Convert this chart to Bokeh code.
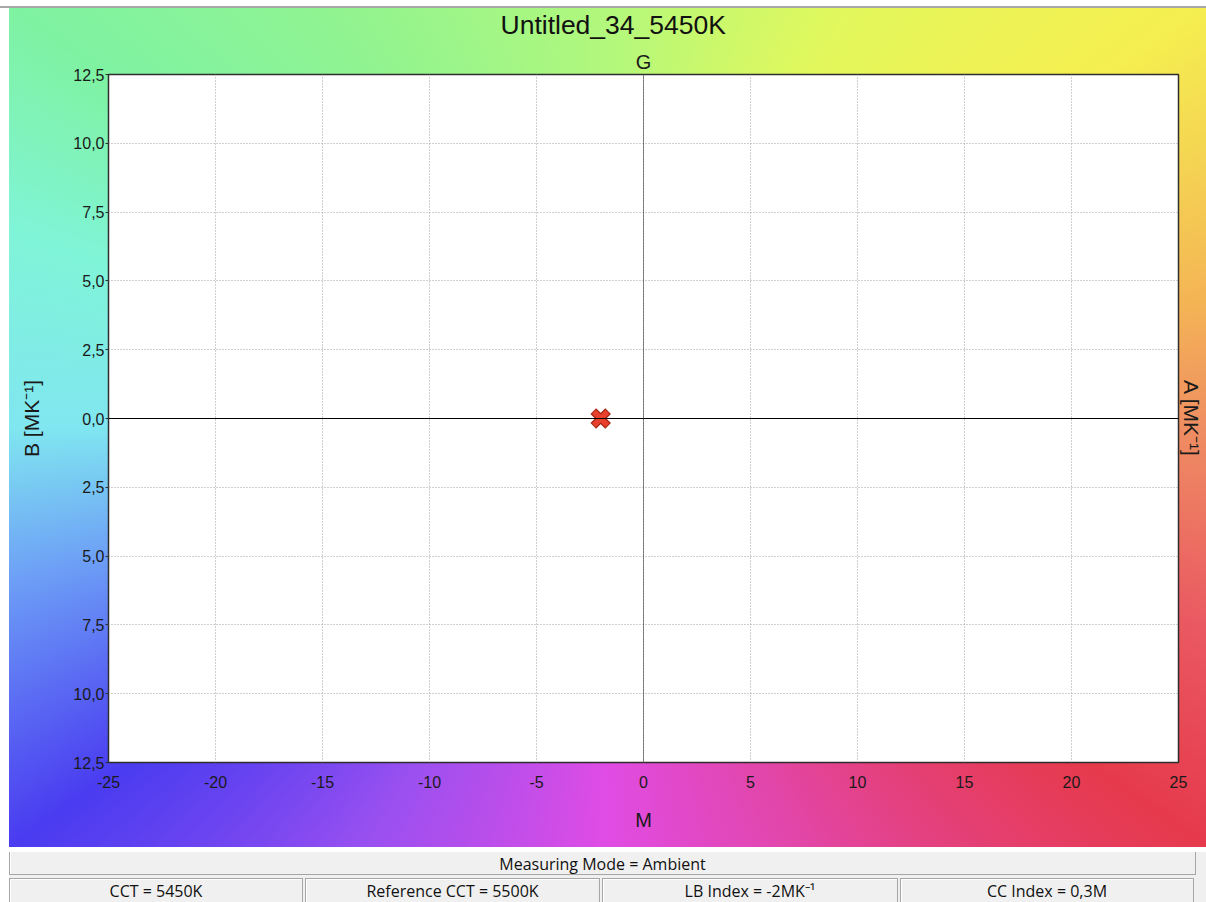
from bokeh.plotting import figure
from bokeh.models import FixedTicker, LinearAxis, Span, Range1d, Div
from bokeh.layouts import column
from bokeh.embed import file_html
from bokeh.resources import INLINE

# ---------------- data ----------------
title_text = "Untitled_34_5450K"
x_ticks = [-25, -20, -15, -10, -5, 0, 5, 10, 15, 20, 25]
x_tick_labels = ["-25", "-20", "-15", "-10", "-5", "0", "5", "10", "15", "20", "25"]
y_ticks = [-12.5, -10, -7.5, -5, -2.5, 0, 2.5, 5, 7.5, 10, 12.5]
y_tick_labels = ["12,5", "10,0", "7,5", "5,0", "2,5", "0,0", "2,5", "5,0", "7,5", "10,0", "12,5"]
point_x = [-2.0]
point_y = [0.0]
label_top = "G"
label_bottom = "M"
label_left = "B [MK⁻¹]"
label_right = "A [MK⁻¹]"
status_top = "Measuring Mode = Ambient"
status_items = ["CCT = 5450K", "Reference CCT = 5500K", "LB Index = -2MK⁻¹", "CC Index = 0,3M"]

FONT = "Liberation Sans"

p = figure(width=1206, height=847,
           x_range=Range1d(x_ticks[0], x_ticks[-1]),
           y_range=Range1d(y_ticks[0], y_ticks[-1]),
           output_backend="svg", toolbar_location=None,
           min_border_left=108, min_border_right=28,
           min_border_top=74, min_border_bottom=85)

p.border_fill_color = None
p.background_fill_color = "white"
conic = ("conic-gradient(from 0deg at 50% 50%, #b2f87c 0deg, #e2f85c 30deg, #f5ee50 55deg, "
         "#f4b455 78deg, #ef8e62 90deg, #ea5a62 108deg, #e63a4c 125deg, #e246a8 155deg, "
         "#e04ce4 180deg, #9a50f0 210deg, #4a3cf0 235deg, #6c9cf6 255deg, #80e6f0 270deg, "
         "#80f4d8 288deg, #7ff2a2 305deg, #94f48e 330deg, #b2f87c 360deg)")
p.styles = {"background": "linear-gradient(#a8a8a8, #a8a8a8) 0px 6px / 100% 2px no-repeat, "
                          + conic + " 9px 8px / 1197px 839px no-repeat, #ffffff"}

p.outline_line_color = "#2e2e2e"
p.outline_line_width = 1.5

# title
p.title.text = title_text
p.title.align = "left"
p.title.offset = 392
p.title.text_font = FONT
p.title.text_font_size = "26.5px"
p.title.text_font_style = "normal"
p.title.text_color = "#111111"
p.title.standoff = 15

# bottom axis
xa = p.xaxis[0]
xa.ticker = FixedTicker(ticks=x_ticks)
xa.major_label_overrides = dict(zip(x_ticks, x_tick_labels))
xa.axis_line_color = None
xa.major_tick_out = 0
xa.major_tick_in = 0
xa.minor_tick_out = 0
xa.minor_tick_in = 0
xa.major_label_standoff = 13
xa.major_label_text_font = FONT
xa.major_label_text_font_size = "16px"
xa.major_label_text_color = "#1a1a1a"
xa.axis_label = label_bottom
xa.axis_label_text_font = FONT
xa.axis_label_text_font_size = "20px"
xa.axis_label_text_font_style = "normal"
xa.axis_label_text_color = "#1a1a1a"
xa.axis_label_standoff = 18

# left axis
ya = p.yaxis[0]
ya.ticker = FixedTicker(ticks=y_ticks)
ya.major_label_overrides = dict(zip(y_ticks, y_tick_labels))
ya.axis_line_color = None
ya.major_tick_out = 3
ya.major_tick_in = 0
ya.major_tick_line_color = "#2e2e2e"
ya.minor_tick_out = 0
ya.minor_tick_in = 0
ya.major_label_standoff = 1
ya.major_label_text_font = FONT
ya.major_label_text_font_size = "16px"
ya.major_label_text_color = "#1a1a1a"
ya.axis_label = label_left
ya.axis_label_text_font = FONT
ya.axis_label_text_font_size = "21px"
ya.axis_label_text_font_style = "normal"
ya.axis_label_text_color = "#1a1a1a"
ya.axis_label_standoff = 27

# top axis (label only)
ta = LinearAxis(axis_label=label_top, ticker=FixedTicker(ticks=[]),
                axis_line_color=None, major_tick_out=0, major_tick_in=0,
                minor_tick_out=0, minor_tick_in=0,
                major_label_text_font_size="0px",
                axis_label_text_font=FONT, axis_label_text_font_size="20px",
                axis_label_text_font_style="normal", axis_label_text_color="#1a1a1a",
                axis_label_standoff=2)
p.add_layout(ta, "above")

# right axis (label only)
ra = LinearAxis(axis_label=label_right, ticker=FixedTicker(ticks=[]),
                axis_line_color=None, major_tick_out=0, major_tick_in=0,
                minor_tick_out=0, minor_tick_in=0,
                major_label_text_font_size="0px",
                axis_label_text_font=FONT, axis_label_text_font_size="21px",
                axis_label_text_font_style="normal", axis_label_text_color="#1a1a1a",
                axis_label_standoff=1)
p.add_layout(ra, "right")

# grids
p.xgrid.ticker = FixedTicker(ticks=x_ticks)
p.ygrid.ticker = FixedTicker(ticks=y_ticks)
for g in (p.xgrid[0], p.ygrid[0]):
    g.grid_line_color = "#a0a0a0"
    g.grid_line_dash = "1 2"
    g.grid_line_width = 1

# zero lines
p.add_layout(Span(location=0, dimension="width", line_color="#000000", line_width=1))
p.add_layout(Span(location=0, dimension="height", line_color="#1e1e1e", line_width=1, line_dash="1 1"))

# marker
p.scatter(point_x, point_y, marker="x", size=21, line_width=8, line_color="#a32515")
p.scatter(point_x, point_y, marker="x", size=19, line_width=5.5, line_color="#e8402c")

# status bars (content offset compensates the Div's inner padding)
box = ("position:absolute;box-sizing:border-box;border:1px solid #a6a6a6;background:#f0f0f0;"
       "text-align:center;font-family:'Open Sans';font-size:16px;color:#111;"
       "box-shadow: inset 1px 1px 0 #ffffff;white-space:nowrap;")
lefts = [4, 300, 597, 895]
widths = [294, 295, 296, 294]
html = ('<div style="position:relative;width:1206px;height:55px;overflow:hidden;">'
        '<div style="position:absolute;left:4px;top:-5px;width:1206px;height:65px;background:#f0f0f0;"></div>')
html += f'<div style="{box}left:4px;top:-2px;width:1187px;height:25px;line-height:27px;">{status_top}</div>'
for lft, w, t in zip(lefts, widths, status_items):
    html += f'<div style="{box}left:{lft}px;top:26px;width:{w}px;height:25px;line-height:24px;">{t}</div>'
html += '</div>'
div = Div(text=html, width=1206, height=55)

layout = column(p, div, spacing=0)

open("out.html", "w").write(file_html(layout, INLINE))
